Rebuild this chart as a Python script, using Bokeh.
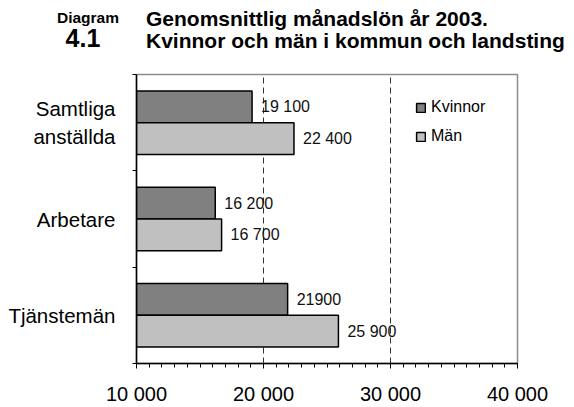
from bokeh.plotting import figure
from bokeh.layouts import column
from bokeh.models import Range1d, FixedTicker, ColumnDataSource, Legend, LegendItem, Div
from bokeh.core.properties import value
from bokeh.embed import file_html
from bokeh.resources import INLINE

# ---- data ----
categories = ["Samtliga\nanställda", "Arbetare", "Tjänstemän"]
kvinnor = [19100, 16200, 21900]
man = [22400, 16700, 25900]
kvinnor_labels = ["19 100", "16 200", "21900"]
man_labels = ["22 400", "16 700", "25 900"]
x_ticks = [10000, 20000, 30000, 40000]
x_tick_labels = ["10 000", "20 000", "30 000", "40 000"]
grid_lines = [20000, 30000]
series_names = ["Kvinnor", "Män"]
title_lines = ["Genomsnittlig månadslön år 2003.",
               "Kvinnor och män i kommun och landsting"]
diagram_word = "Diagram"
diagram_number = "4.1"

FONT = "Liberation Sans"
W = 574
TITLE_H = 69
MAIN_H = 338

# ---- title block ----
def span(txt, left, top, size, align="left", width=None):
    w = f"width:{width}px;" if width else ""
    return (f'<div style="position:absolute;left:{left}px;top:{top}px;{w}'
            f'text-align:{align};white-space:nowrap;line-height:1;'
            f'font-family:\'{FONT}\';font-weight:bold;font-size:{size}px;color:#000;">'
            f'{txt}</div>')

html = (f'<div style="position:relative;width:{W}px;height:{TITLE_H}px;">'
        + span(diagram_word, 38, 10, 15.5, "center", 100)
        + span(diagram_number, 33, 26, 25, "center", 100)
        + span(title_lines[0], 146, 8, 21)
        + span(title_lines[1], 146, 30, 21)
        + '</div>')
title_div = Div(text=html, width=W, height=TITLE_H, margin=0)

# ---- main chart ----
n = len(categories)
centers = [n - i - 0.5 for i in range(n)]
off = 0.165
bar_h = 0.33

p = figure(width=W, height=MAIN_H, output_backend="svg", toolbar_location=None,
           x_range=Range1d(x_ticks[0], x_ticks[-1]), y_range=Range1d(0, n),
           min_border_left=136, min_border_right=57, min_border_top=5,
           min_border_bottom=42)
p.outline_line_color = "#8c8c8c"
p.outline_line_width = 1.5

src_k = ColumnDataSource(dict(y=[c + off for c in centers], right=kvinnor,
                              label=kvinnor_labels))
src_m = ColumnDataSource(dict(y=[c - off for c in centers], right=man,
                              label=man_labels))

p.ygrid.visible = False
p.xgrid.ticker = FixedTicker(ticks=grid_lines)
p.xgrid.grid_line_color = "#333333"
p.xgrid.grid_line_dash = "6 4"
p.xgrid.grid_line_width = 1

rk = p.hbar(y="y", right="right", left=x_ticks[0], height=bar_h, source=src_k,
            fill_color="#808080", line_color="black", line_width=1.5)
rm = p.hbar(y="y", right="right", left=x_ticks[0], height=bar_h, source=src_m,
            fill_color="#c0c0c0", line_color="black", line_width=1.5)

for src in (src_k, src_m):
    p.text(x="right", y="y", text="label", source=src, x_offset=9,
           text_align="left", text_baseline="middle",
           text_font=value(FONT), text_font_size="16px", text_color="#111111")

# x axis
xa = p.xaxis[0]
xa.ticker = FixedTicker(ticks=x_ticks,
                        minor_ticks=list(range(x_ticks[0], x_ticks[-1] + 1, 1000)))
xa.major_label_overrides = {tk: lab for tk, lab in zip(x_ticks, x_tick_labels)}
xa.major_label_text_font = FONT
xa.major_label_text_font_size = "20px"
xa.major_label_text_color = "black"
xa.major_label_standoff = 14
xa.axis_line_color = "black"
xa.axis_line_width = 1.5
xa.major_tick_out = 5
xa.major_tick_in = 0
xa.minor_tick_out = 4
xa.minor_tick_in = 0
xa.major_tick_line_color = "black"
xa.minor_tick_line_color = "black"

# y axis
ya = p.yaxis[0]
ya.ticker = FixedTicker(ticks=centers, minor_ticks=list(range(n + 1)))
ya.major_label_overrides = {c: lab for c, lab in zip(centers, categories)}
ya.major_tick_line_color = None
ya.major_tick_out = 0
ya.major_tick_in = 0
ya.minor_tick_out = 4
ya.minor_tick_in = 0
ya.minor_tick_line_color = "black"
ya.axis_line_color = "black"
ya.axis_line_width = 1.5
ya.major_label_standoff = 17
ya.major_label_text_font = FONT
ya.major_label_text_font_size = "20.5px"
ya.major_label_text_color = "black"

# legend
legend = Legend(items=[LegendItem(label=series_names[0], renderers=[rk]),
                       LegendItem(label=series_names[1], renderers=[rm])],
                location=(279, 218), orientation="vertical",
                border_line_color=None, background_fill_alpha=0,
                padding=0, margin=0, spacing=11, glyph_width=11, glyph_height=11,
                label_standoff=5, label_height=14,
                label_text_font=FONT, label_text_font_size="16px",
                label_text_color="black")
p.add_layout(legend)

layout = column(title_div, p, spacing=0)
open("out.html", "w").write(file_html(layout, INLINE))
